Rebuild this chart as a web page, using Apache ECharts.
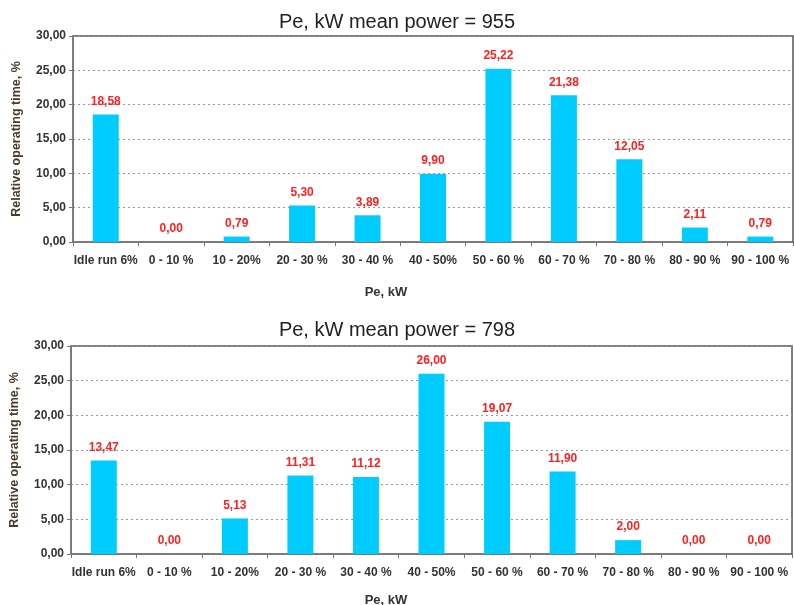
<!DOCTYPE html>
<html><head><meta charset="utf-8">
<script src="https://cdn.jsdelivr.net/npm/echarts@6/dist/echarts.min.js"></script>
<style>html,body{margin:0;padding:0;background:#fff}#c{width:794px;height:605px}</style>
</head><body><div id="c"></div>
<script>
const categories = ["Idle run 6%", "0 - 10 %", "10 - 20%", "20 - 30 %", "30 - 40 %", "40 - 50%", "50 - 60 %", "60 - 70 %", "70 - 80 %", "80 - 90 %", "90 - 100 %"];
const valuesTop = [18.58, 0.00, 0.79, 5.30, 3.89, 9.90, 25.22, 21.38, 12.05, 2.11, 0.79];
const valuesBottom = [13.47, 0.00, 5.13, 11.31, 11.12, 26.00, 19.07, 11.90, 2.00, 0.00, 0.00];
const titleTop = "Pe, kW mean power = 955";
const titleBottom = "Pe, kW mean power = 798";
const xName = "Pe, kW";
const yName = "Relative operating time, %";

const FONT = "Liberation Sans, Arial, sans-serif";
const fmt = v => v.toFixed(2).replace('.', ',');
const chart = echarts.init(document.getElementById('c'));

function xAxis(gi) {
  return {
    type: 'category', gridIndex: gi, data: categories,
    axisLine: {lineStyle: {color: '#777', width: 1}},
    axisTick: {show: true, alignWithLabel: false, length: 4, lineStyle: {color: '#777'}},
    axisLabel: {interval: 0, margin: 13, fontFamily: FONT, fontWeight: 'bold', fontSize: 12, color: '#333'}
  };
}
function yAxis(gi) {
  return {
    type: 'value', gridIndex: gi, min: 0, max: 30, interval: 5,
    name: yName, nameLocation: 'middle', nameGap: 50, nameRotate: 90,
    nameTextStyle: {fontFamily: FONT, fontWeight: 'bold', fontSize: 12.5, color: '#4a3a2a'},
    axisLine: {show: true, lineStyle: {color: '#777', width: 1}},
    axisTick: {show: true, length: 4, lineStyle: {color: '#777'}},
    axisLabel: {formatter: fmt, margin: 7, fontFamily: FONT, fontWeight: 'bold', fontSize: 12, color: '#333'},
    splitLine: {show: true, lineStyle: {color: '#999', type: [2, 3], width: 1}}
  };
}
function series(gi, data) {
  return {
    type: 'bar', xAxisIndex: gi, yAxisIndex: gi, data: data, barWidth: 26,
    itemStyle: {color: '#00CCFF'},
    label: {show: true, position: 'top', distance: 7, formatter: p => fmt(p.value),
      fontFamily: FONT, fontWeight: 'bold', fontSize: 12, color: '#FF2020'}
  };
}

chart.setOption({
  animation: false,
  title: [
    {text: titleTop, left: 392, textAlign: 'center', top: 7, textStyle: {fontFamily: FONT, fontWeight: 'normal', fontSize: 20, color: '#222'}},
    {text: titleBottom, left: 392, textAlign: 'center', top: 315, textStyle: {fontFamily: FONT, fontWeight: 'normal', fontSize: 20, color: '#222'}},
    {text: xName, left: 381, textAlign: 'center', top: 281, textStyle: {fontFamily: FONT, fontWeight: 'bold', fontSize: 13, color: '#333'}},
    {text: xName, left: 381, textAlign: 'center', top: 589, textStyle: {fontFamily: FONT, fontWeight: 'bold', fontSize: 13, color: '#333'}}
  ],
  grid: [
    {left: 73, top: 36, width: 720, height: 206, show: true, borderColor: '#555', borderWidth: 1.5},
    {left: 71, top: 346, width: 721, height: 208, show: true, borderColor: '#555', borderWidth: 1.5}
  ],
  xAxis: [xAxis(0), xAxis(1)],
  yAxis: [yAxis(0), yAxis(1)],
  series: [series(0, valuesTop), series(1, valuesBottom)]
});
</script></body></html>
